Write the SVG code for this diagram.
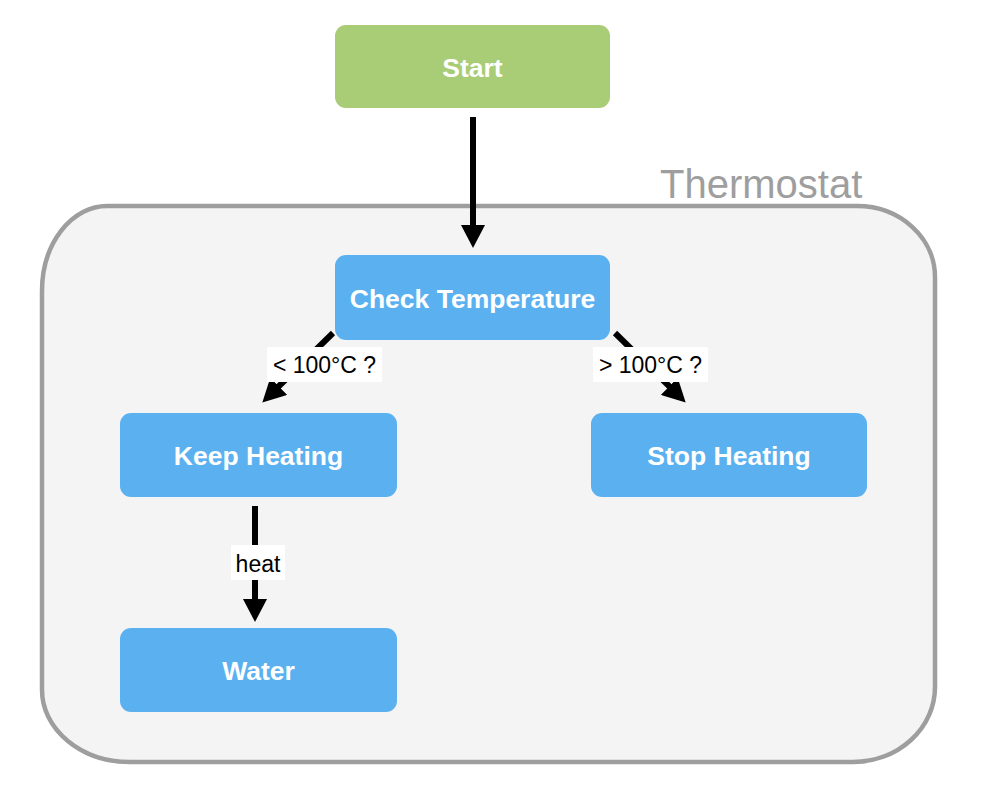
<svg xmlns="http://www.w3.org/2000/svg" width="990" height="812" viewBox="0 0 990 812">
  <style>
    .node-green { fill: #a9cc76; }
    .node-blue { fill: #5bb1f0; }
    .ntext { font-family: "Liberation Sans", Arial, Helvetica, sans-serif; font-size: 26.5px; font-weight: bold; fill: #ffffff; text-anchor: middle; }
    .ltext { font-family: "Liberation Sans", Arial, Helvetica, sans-serif; font-size: 23px; fill: #000000; text-anchor: middle; }
    .lbg { fill: #ffffff; }
    .edge { stroke: #000000; stroke-width: 6; fill: none; }
  </style>
  <defs>
    <marker id="arrow" viewBox="0 0 23 24" refX="1" refY="12" markerWidth="23" markerHeight="24" markerUnits="userSpaceOnUse" orient="auto">
      <path d="M0,0 L23,12 L0,24 Z" fill="#000000"/>
    </marker>
  </defs>
  <rect width="990" height="812" fill="#ffffff"/>

  <g id="thermostat">
    <path d="M 107 206 L 857 206 A 78 71 0 0 1 935 277 L 935 687 A 82 75 0 0 1 853 762 L 130 762 A 88 72 0 0 1 42 690 L 42 291 A 65 85 0 0 1 107 206 Z" fill="#f4f4f4" stroke="#9e9e9e" stroke-width="4.5"/>
    <text x="660" y="198" font-family="Liberation Sans, Arial, sans-serif" font-size="40" fill="#9e9e9e">Thermostat</text>
  </g>

  <g id="connectors">
    <line class="edge" x1="473" y1="117" x2="473" y2="226" marker-end="url(#arrow)"/>
    <line class="edge" x1="333" y1="333" x2="278" y2="387" marker-end="url(#arrow)"/>
    <line class="edge" x1="615" y1="333" x2="670" y2="387" marker-end="url(#arrow)"/>
    <line class="edge" x1="255" y1="506" x2="255" y2="600" marker-end="url(#arrow)"/>
    <rect class="lbg" x="267" y="347" width="115" height="35"/>
    <text class="ltext" x="324.5" y="373">&lt; 100°C ?</text>
    <rect class="lbg" x="593" y="347" width="115" height="35"/>
    <text class="ltext" x="650.5" y="373">&gt; 100°C ?</text>
    <rect class="lbg" x="231" y="545" width="54" height="35"/>
    <text class="ltext" x="258" y="572">heat</text>
  </g>

  <g id="start">
    <rect class="node-green" x="335" y="25" width="275" height="83" rx="11"/>
    <text class="ntext" x="472.5" y="77">Start</text>
  </g>
  <g id="check-temperature">
    <rect class="node-blue" x="335" y="255" width="275" height="85" rx="11"/>
    <text class="ntext" x="472.5" y="308">Check Temperature</text>
  </g>
  <g id="keep-heating">
    <rect class="node-blue" x="120" y="413" width="277" height="84" rx="11"/>
    <text class="ntext" x="258.5" y="465">Keep Heating</text>
  </g>
  <g id="stop-heating">
    <rect class="node-blue" x="591" y="413" width="276" height="84" rx="11"/>
    <text class="ntext" x="729" y="465">Stop Heating</text>
  </g>
  <g id="water">
    <rect class="node-blue" x="120" y="628" width="277" height="84" rx="11"/>
    <text class="ntext" x="258.5" y="680">Water</text>
  </g>
</svg>
